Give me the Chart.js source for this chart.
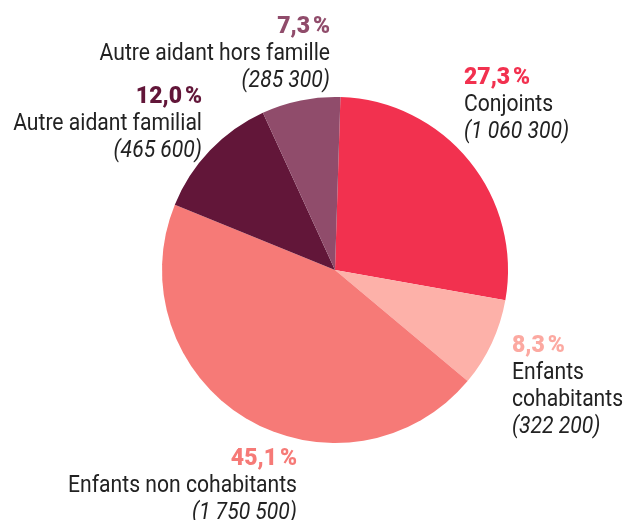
<!DOCTYPE html>
<html lang="fr">
<head>
<meta charset="utf-8">
<script src="https://cdn.jsdelivr.net/npm/chart.js@4"></script>
<style>
  html, body { margin: 0; padding: 0; background: #fff; }
  #wrap { width: 625px; height: 520px; position: relative; }
</style>
</head>
<body>
<div id="wrap"><canvas id="chart-aidants"></canvas></div>
<script>
// Répartition des aidants
const categories = ['Conjoints', 'Enfants cohabitants', 'Enfants non cohabitants', 'Autre aidant familial', 'Autre aidant hors famille'];
const labelLines = [['Conjoints'], ['Enfants', 'cohabitants'], ['Enfants non cohabitants'], ['Autre aidant familial'], ['Autre aidant hors famille']];
const effectifs = [1060300, 322200, 1750500, 465600, 285300];
const pourcentages = ['27,3', '8,3', '45,1', '12,0', '7,3'];
const effectifsTexte = ['1 060 300', '322 200', '1 750 500', '465 600', '285 300'];
const couleurs = ['#F2314F', '#FDB1A9', '#F67A77', '#621639', '#904C6B'];
const couleursPct = ['#F2314F', '#FCA9A1', '#F67A77', '#621639', '#904C6B'];

// label anchors, relative to the pie centre (dx, dy of the percentage baseline)
const labelAnchors = [
  { dx: 129, dy: -186, align: 'left' },
  { dx: 177, dy: 82, align: 'left' },
  { dx: -38, dy: 195, align: 'right' },
  { dx: -133, dy: -167, align: 'right' },
  { dx: -5, dy: -237, align: 'right' },
];

const LINE_H = 27;
const SQUEEZE = 0.88;

const labelsPlugin = {
  id: 'aidantsLabels',
  afterDraw(chart) {
    const arc = chart.getDatasetMeta(0).data[0];
    if (!arc) return;
    const { ctx } = chart;
    const cx = arc.x, cy = arc.y;
    ctx.save();
    labelAnchors.forEach((a, i) => {
      const x = cx + a.dx;
      let y = cy + a.dy;
      ctx.textBaseline = 'alphabetic';
      ctx.textAlign = a.align;

      ctx.font = '900 23px Roboto';
      ctx.fillStyle = couleursPct[i];
      ctx.fillText(`${pourcentages[i]}\u202F%`, x, y);

      const lines = labelLines[i].map(t => ({ t, italic: false }));
      lines.push({ t: `(${effectifsTexte[i]})`, italic: true });
      lines.forEach(l => {
        y += LINE_H;
        ctx.save();
        ctx.translate(x, y);
        ctx.scale(SQUEEZE, 1);
        ctx.font = `${l.italic ? 'italic ' : ''}24px Roboto`;
        ctx.fillStyle = '#222222';
        ctx.fillText(l.t, 0, 0);
        ctx.restore();
      });
    });
    ctx.restore();
  }
};

new Chart(document.getElementById('chart-aidants'), {
  type: 'pie',
  data: {
    labels: categories,
    datasets: [{
      data: effectifs,
      backgroundColor: couleurs,
      borderWidth: 0,
      hoverOffset: 0,
    }]
  },
  options: {
    responsive: true,
    maintainAspectRatio: false,
    animation: false,
    rotation: 1.8,
    layout: { padding: { left: 162, right: 117, top: 97, bottom: 77 } },
    plugins: {
      legend: { display: false },
      tooltip: { enabled: false },
    }
  },
  plugins: [labelsPlugin]
});
</script>
</body>
</html>
